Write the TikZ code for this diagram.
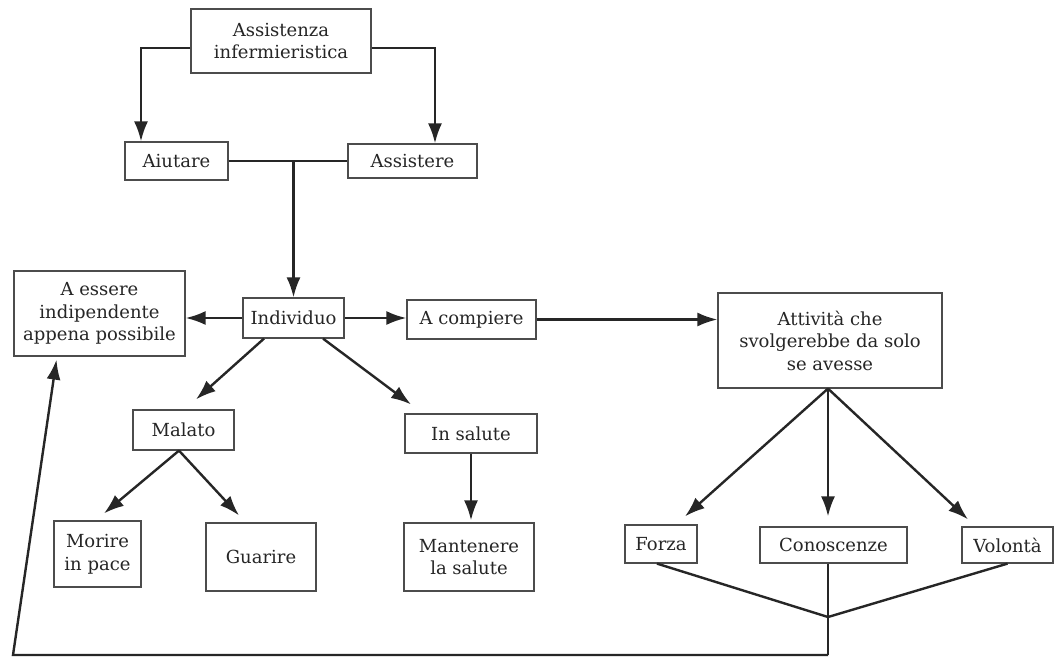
\documentclass[tikz,border=0pt]{standalone}
\usepackage{fontspec}
\setmainfont{DejaVu Serif}
\usetikzlibrary{arrows.meta,calc}
\begin{document}
\begin{tikzpicture}[x=1pt,y=-1pt,
  box/.style={draw=black!70, line width=1.2pt, fill=white, inner sep=0pt, align=center, text=black!85, font=\fontsize{18}{22.5}\selectfont},
  arr/.style={draw=black!85, line width=2.4pt, -{Latex[length=20pt,width=14pt]}},
  ln/.style={draw=black!85, line width=2.4pt},
  thinln/.style={draw=black!85, line width=1.4pt}]
\fill[white] (0,0) rectangle (1056,659);
\useasboundingbox (0,0) rectangle (1056,659);
% nodes
\node[box, minimum width=180pt, minimum height=64pt] (ai) at (281,41) {Assistenza\\infermieristica};
\node[box, minimum width=103pt, minimum height=38pt] (aiu) at (176.5,161) {Aiutare};
\node[box, minimum width=129pt, minimum height=34pt] (ass) at (412.5,161) {Assistere};
\node[box, minimum width=101pt, minimum height=40pt] (ind) at (293.5,318) {Individuo};
\node[box, minimum width=171pt, minimum height=85pt] (ess) at (99.5,313.5) {A essere\\indipendente\\appena possibile};
\node[box, minimum width=129pt, minimum height=39pt] (comp) at (471.5,319.5) {A compiere};
\node[box, minimum width=224pt, minimum height=95pt] (att) at (830,340.5) {Attività che\\svolgerebbe da solo\\se avesse};
\node[box, minimum width=101pt, minimum height=40pt] (mal) at (183.5,430) {Malato};
\node[box, minimum width=132pt, minimum height=39pt] (sal) at (471,433.5) {In salute};
\node[box, minimum width=87pt, minimum height=66pt] (mor) at (97.5,554) {Morire\\in pace};
\node[box, minimum width=110pt, minimum height=68pt] (gua) at (261,557) {Guarire};
\node[box, minimum width=130pt, minimum height=68pt] (man) at (469,557) {Mantenere\\la salute};
\node[box, minimum width=72pt, minimum height=38pt] (for) at (661,544) {Forza};
\node[box, minimum width=147pt, minimum height=36pt] (con) at (833.5,545) {Conoscenze};
\node[box, minimum width=91pt, minimum height=36pt] (vol) at (1007.5,545) {Volontà};
\coordinate (jn) at (828,617);
\coordinate (bl) at (13,655);
% connectors
\draw[arr] (ai.west |- 0,48) -| (141,0 |- aiu.north);
\draw[arr] (ai.east |- 0,48) -| (435,0 |- ass.north);
\draw[ln] (aiu.east) -- (ass.west);
\draw[arr] (aiu.east -| ind.north) -- (ind.north);
\draw[arr] (ind.west) -- (ess.east |- ind.west);
\draw[arr] (ind.east) -- (comp.west |- ind.east);
\draw[arr] (comp.east) -- (att.west |- comp.east);
\draw[arr] ($(ind.south)+(-29.5,0)$) -- ($(mal.north)+(12.5,-10)$);
\draw[arr] ($(ind.south)+(29.5,0)$) -- ($(sal.north)+(-60,-9)$);
\draw[arr] ($(mal.south)+(-4.5,0)$) -- ($(mor.north)+(6.5,-7)$);
\draw[arr] ($(mal.south)+(-4.5,0)$) -- ($(gua.north)+(-22,-7)$);
\draw[arr] (sal.south) -- ($(sal.south |- man.north)+(0,-2)$);
\draw[arr] ($(att.south)+(-2,0)$) -- ($(for.north)+(24,-8)$);
\draw[arr] ($(att.south)+(-2,0)$) -- ($(con.north)+(-5.5,-10)$);
\draw[arr] ($(att.south)+(-2,0)$) -- ($(vol.north)+(-39.5,-7)$);
\draw[ln] ($(for.south)+(-4,0)$) -- (jn) -- (vol.south);
\draw[thinln] ($(con.south)+(-5.5,0)$) -- (jn |- bl);
\draw[arr, line join=miter] (jn |- bl) -- (bl) -- ($(ess.south)+(-43,3)$);
\end{tikzpicture}
\end{document}
